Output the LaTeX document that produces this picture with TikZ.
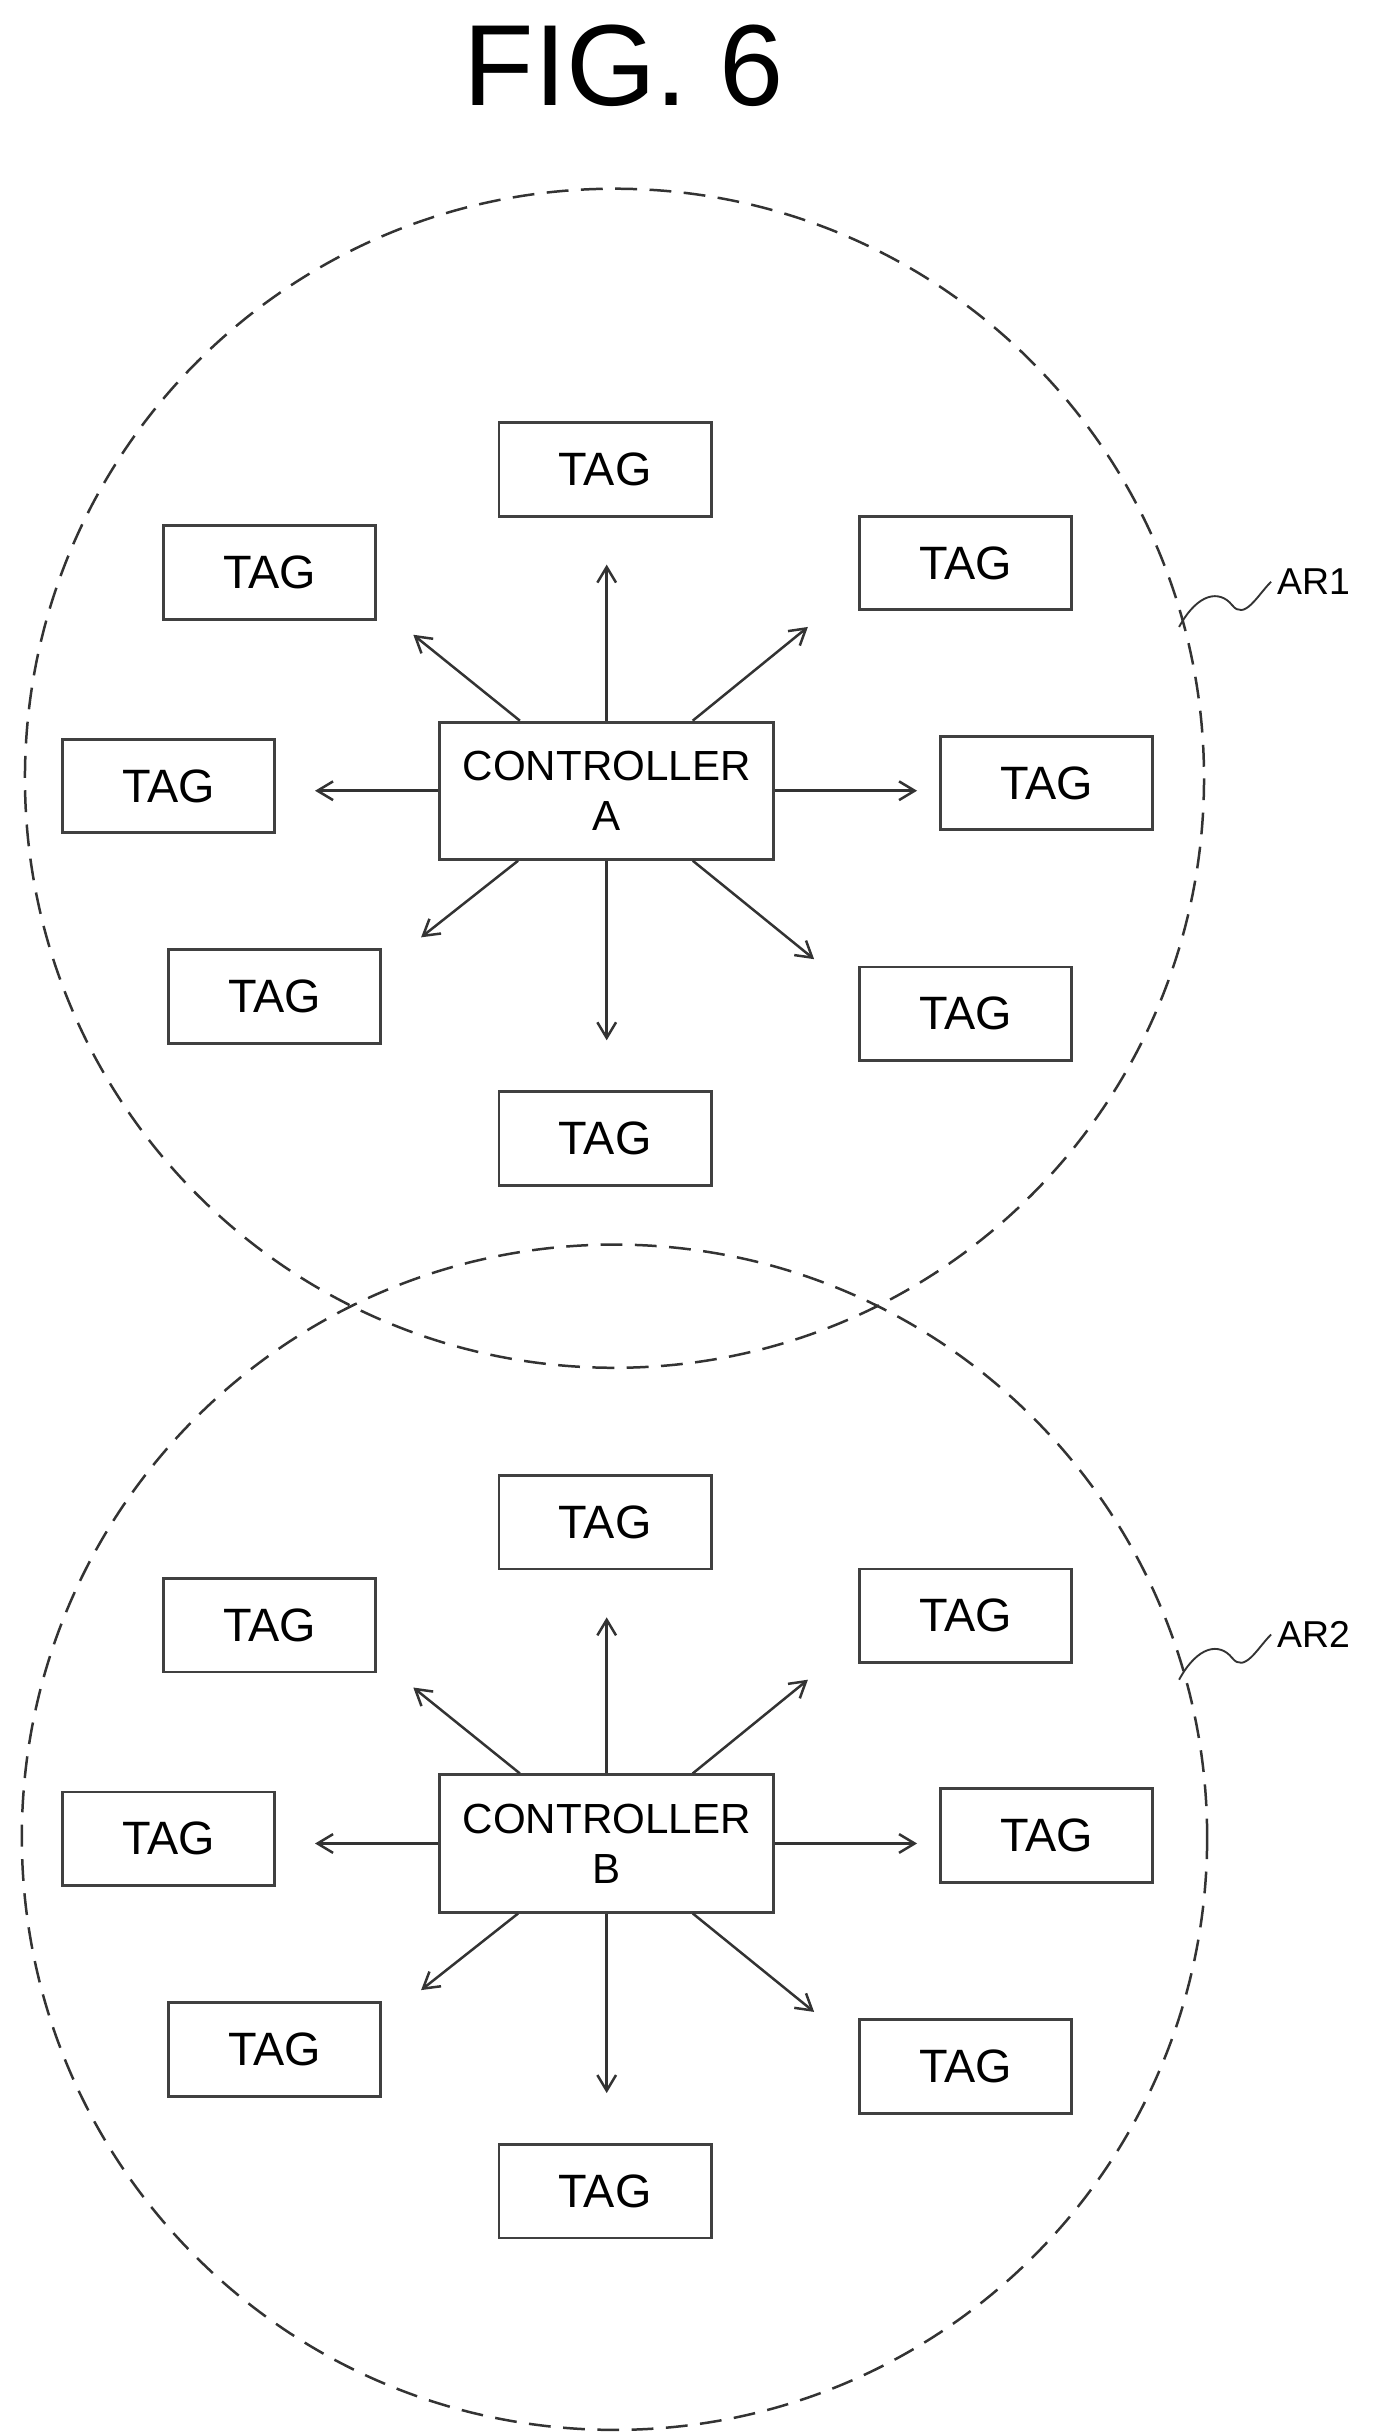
\documentclass[tikz,border=0pt]{standalone}
\usepackage{fontspec}
\setmainfont{Liberation Sans}
\usetikzlibrary{arrows.meta}
\tikzset{every picture/.style={line width=1.2pt}}
\tikzset{
  tagbox/.style={draw=black!75, line width=1.8pt, minimum width=136pt, minimum height=60pt, inner sep=0pt, font=\fontsize{30}{32}\selectfont},
  ctrlbox/.style={draw=black!75, line width=1.8pt, minimum width=214pt, minimum height=88pt, inner sep=0pt, align=center, font=\fontsize{27}{32}\selectfont},
  area/.style={draw=black!80, line width=1.6pt, dash pattern=on 14pt off 8pt},
  link/.style={-{Straight Barb[length=10pt,width=12pt]}, draw=black!80, line width=1.6pt}
}
\begin{document}
\begin{tikzpicture}[x=1pt,y=1pt,yscale=-1]
\useasboundingbox (0,0) rectangle (885,1560);

%title
\node (title) at (400,42) {\fontsize{74}{76}\selectfont FIG. 6};

%areas
\draw [area] (394,499) circle (378);
\draw [area] (394,1178) circle (380);

\foreach \dy/\nm/\lb in {0/A/AR1,675/B/AR2}{
\begin{scope}[yshift=\dy]
  \node [ctrlbox] (ctrl\nm) at (389,507) {CONTROLLER\\\nm};
  \node [tagbox] (tagN\nm) at (388,301) {TAG};
  \node [tagbox] (tagNW\nm) at (173,367) {TAG};
  \node [tagbox] (tagNE\nm) at (619,361) {TAG};
  \node [tagbox] (tagW\nm) at (108,504) {TAG};
  \node [tagbox] (tagE\nm) at (671,502) {TAG};
  \node [tagbox] (tagSW\nm) at (176,639) {TAG};
  \node [tagbox] (tagSE\nm) at (619,650) {TAG};
  \node [tagbox] (tagS\nm) at (388,730) {TAG};
  %free ends of the arrows
  \coordinate (eN\nm) at (389,362);
  \coordinate (eNW\nm) at (265,407);
  \coordinate (eNE\nm) at (518,402);
  \coordinate (eW\nm) at (202,507);
  \coordinate (eE\nm) at (588,507);
  \coordinate (eSW\nm) at (270,601);
  \coordinate (eSE\nm) at (522,615);
  \coordinate (eS\nm) at (389,667);
  \foreach \d in {N,NW,NE,W,E,SW,SE,S}
    \draw [link] (ctrl\nm) -- (e\d\nm);
  %area label
  \node [anchor=west, font=\fontsize{24}{26}\selectfont] (lab\nm) at (815,373) {\lb};
  \draw [black!80] (756,402) .. controls (768,380) and (782,378) .. (790,388) .. controls (798,398) and (806,382) .. (lab\nm.west);
\end{scope}
}
\end{tikzpicture}
\end{document}
